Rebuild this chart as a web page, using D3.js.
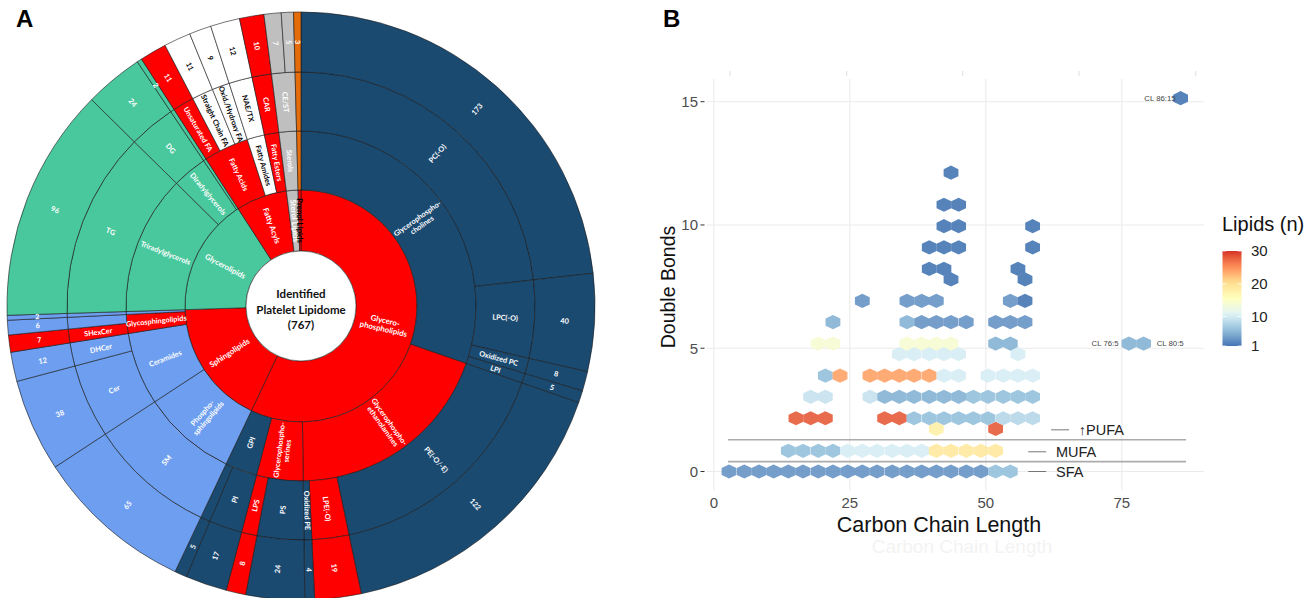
<!DOCTYPE html>
<html>
<head>
<meta charset="utf-8">
<script src="https://cdn.jsdelivr.net/npm/d3@7"></script>
<style>
  body { margin: 0; background: #fff; }
  svg { display: block; font-family: "Liberation Sans", Arial, sans-serif; }
</style>
</head>
<body>
<div id="chart"></div>
<script>
// ---------- panel A: one entry per outer-ring segment, clockwise from 12 o'clock ----------
const lipidClass = [
  "Glycero-\nphospholipids","Glycero-\nphospholipids","Glycero-\nphospholipids","Glycero-\nphospholipids",
  "Glycero-\nphospholipids","Glycero-\nphospholipids","Glycero-\nphospholipids","Glycero-\nphospholipids",
  "Glycero-\nphospholipids","Glycero-\nphospholipids","Glycero-\nphospholipids",
  "Sphingolipids","Sphingolipids","Sphingolipids","Sphingolipids","Sphingolipids","Sphingolipids",
  "Glycerolipids","Glycerolipids","Glycerolipids",
  "Fatty Acyls","Fatty Acyls","Fatty Acyls","Fatty Acyls","Fatty Acyls",
  "Sterol Lipids","Sterol Lipids",
  "Prenol Lipids"
];
const subClass = [
  "Glycerophospho-\ncholines","Glycerophospho-\ncholines","Glycerophospho-\ncholines","Glycerophospho-\ncholines",
  "Glycerophospho-\nethanolamines","Glycerophospho-\nethanolamines","Glycerophospho-\nethanolamines",
  "Glycerophospho-\nserines","Glycerophospho-\nserines",
  "GPI","GPI",
  "Phospho-\nsphingolipids","Ceramides","Ceramides","Glycosphingolipids","Glycosphingolipids","",
  "Triradylglycerols","Diradylglycerols","",
  "Fatty Acids","Fatty Acids","Fatty Acids","Fatty Amides","Fatty Esters",
  "Sterols","Sterols",
  ""
];
const speciesGroup = [
  "PC(-O)","LPC(-O)","Oxidized PC","LPI",
  "PE(-O/-E)","LPE(-O)","Oxidized PE",
  "PS","LPS",
  "PI","",
  "SM","Cer","DHCer","SHexCer","","",
  "TG","DG","",
  "Unsaturated FA","Straight Chain FA","Oxid./Hydroxy FA","NAE/TX","CAR",
  "CE/ST","CE/ST",
  ""
];
const lipidCounts = [173,40,8,5, 122,19,4, 24,8, 17,5, 65,38,12,7,6,2, 96,24,2, 11,11,9,12,10, 7,5, 3];
const centerLines = ["Identified", "Platelet Lipidome", "(767)"];

// ---------- panel B: hex cells, one row per double-bond level ----------
const hexRowDB = [0, 0.84, 1.73, 2.16, 3.03, 3.89, 4.76, 5.19, 6.06, 6.92, 7.79, 8.22, 9.09, 9.95, 10.82, 12.12, 15.14];
const hexRowCarbon = [
  [2.8,5.6,8.3,11.0,13.7,16.4,19.2,21.9,24.6,27.3,30.0,32.8,35.5,38.2,40.9,43.6,46.4,49.1,51.8,54.5],
  [13.7,16.4,19.2,21.9,24.6,27.3,30.0,32.8,35.5,38.2,40.9,43.6,46.4,49.1,51.8],
  [40.9,51.8],
  [15.1,17.8,20.5,31.4,34.1,36.8,39.6,42.3,45.0,47.7,50.4,53.2,55.9,58.6],
  [17.8,20.5,28.7,31.4,34.1,36.8,39.6,42.3,45.0,47.7,50.4,53.2,55.9,58.6],
  [20.5,23.2,28.7,31.4,34.1,36.8,39.6,42.3,45.0,50.4,53.2,55.9,58.6],
  [34.1,36.8,39.6,42.3,45.0,55.9],
  [19.2,21.9,35.5,38.2,40.9,43.6,51.8,54.5,76.3,79.0],
  [21.9,35.5,38.2,40.9,43.6,46.4,51.8,54.5,57.2],
  [27.3,35.5,38.2,40.9,54.5,57.2],
  [43.6,57.2],
  [39.6,42.3,55.9],
  [39.6,42.3,45.0,58.6],
  [42.3,45.0,58.6],
  [42.3,45.0],
  [43.6],
  [85.8]
];
const hexRowCount = [
  [3,3,3,3,3,3,3,3,3,3,3,3,3,3,3,3,3,3,6,6],
  [6,6,6,6,10,10,10,10,10,10,19,19,19,19,19],
  [18,28],
  [28,28,28,28,28,6,6,6,6,6,6,8,8,8],
  [9,9,9,5,5,5,5,5,5,6,6,6,6,6],
  [6,24,24,24,24,24,24,10,10,10,10,10,10],
  [10,10,10,10,10,10],
  [14,14,14,14,14,14,5,5,5,5],
  [5,5,3,3,3,3,3,3,3],
  [3,3,3,3,3,1],
  [1,1],
  [1,1,1],
  [1,1,1,1],
  [1,1,1],
  [1,1],
  [1],
  [1]
];
const xTicks = [0, 25, 50, 75];
const yTicks = [0, 5, 10, 15];
const legendTicks = [1, 10, 20, 30];
const fattyLabels = ["SFA", "MUFA", "\u2191PUFA"];
const fattyLabelDB = [0, 0.8, 1.69];
const speciesNotes = ["CL 86:15", "CL 76:5", "CL 80:5"];

const svg = d3.select("#chart").append("svg")
  .attr("width", 1306)
  .attr("height", 598);

// ================= panel A: sunburst =================
const treeData = {name: "root", children: []};
lipidCounts.forEach((c, i) => {
  let node = treeData;
  [lipidClass[i], subClass[i], speciesGroup[i]].forEach(name => {
    let child = node.children.find(d => d.name === name);
    if (!child) { child = {name, children: []}; node.children.push(child); }
    node = child;
  });
  node.children.push({name: String(c), value: c});
});

const root = d3.hierarchy(treeData).sum(d => d.value || 0);
d3.partition().size([2 * Math.PI, 5])(root);

const ringRadius = d3.scaleLinear().domain([1, 2, 3, 4, 5]).range([55, 116, 175, 234, 294]);

const classColor = {
  "Glycero-\nphospholipids": "#1b4a71",
  "Sphingolipids": "#6d9eef",
  "Glycerolipids": "#49c89d",
  "Fatty Acyls": "#ffffff",
  "Sterol Lipids": "#bfbfbf",
  "Prenol Lipids": "#e46c0a"
};
const redNodes = new Set([
  "Glycero-\nphospholipids", "Sphingolipids", "Fatty Acyls", "Prenol Lipids",
  "Glycerophospho-\nethanolamines", "Glycerophospho-\nserines", "Glycosphingolipids", "Fatty Acids", "Fatty Esters",
  "LPE(-O)", "LPS", "SHexCer", "Unsaturated FA", "CAR"
]);

function segFill(d) {
  const top = d.ancestors().find(a => a.depth === 1);
  const own = d.depth === 4 ? d.parent : d;
  if (redNodes.has(own.data.name)) return "#ff0000";
  return classColor[top.data.name];
}

const arc = d3.arc()
  .startAngle(d => d.x0)
  .endAngle(d => d.x1)
  .innerRadius(d => ringRadius(d.y0))
  .outerRadius(d => ringRadius(d.y1));

const gA = svg.append("g").attr("transform", "translate(301,306)");

const nodes = root.descendants().filter(d => d.depth > 0);

gA.selectAll("path")
  .data(nodes)
  .join("path")
    .attr("d", arc)
    .attr("fill", segFill)
    .attr("stroke", "#1a1a1a")
    .attr("stroke-width", 0.6);

const labels = gA.selectAll("text.seg")
  .data(nodes.filter(d => d.data.name !== ""))
  .join("text")
    .attr("class", "seg")
    .attr("transform", d => {
      const a = (d.x0 + d.x1) / 2;
      const r = (ringRadius(d.y0) + ringRadius(d.y1)) / 2;
      const deg = a * 180 / Math.PI;
      const rot = deg < 180 ? deg - 90 : deg - 270;
      return `translate(${r * Math.sin(a)},${-r * Math.cos(a)}) rotate(${rot})`;
    })
    .attr("text-anchor", "middle")
    .attr("font-family", "Lato, 'Open Sans', sans-serif")
    .attr("font-weight", "bold")
    .attr("font-size", d => d.depth === 1 ? "7.8px" : "7.3px")
    .attr("fill", d => (segFill(d) === "#ffffff" || d.data.name === "Prenol Lipids") ? "#000" : "#fff");

labels.each(function(d) {
  const lines = d.data.name.split("\n");
  const t = d3.select(this);
  lines.forEach((line, i) => {
    t.append("tspan")
      .attr("x", 0)
      .attr("dy", i === 0 ? `${0.35 - (lines.length - 1) * 0.55}em` : "1.1em")
      .text(line);
  });
});

gA.append("circle")
  .attr("r", ringRadius(1))
  .attr("fill", "#fff")
  .attr("stroke", "#333")
  .attr("stroke-width", 0.6);

gA.selectAll("text.center")
  .data(centerLines)
  .join("text")
    .attr("class", "center")
    .attr("text-anchor", "middle")
    .attr("y", (d, i) => -8 + i * 15.5)
    .attr("font-family", "Lato, 'Open Sans', sans-serif")
    .attr("font-weight", "bold")
    .attr("font-size", "11.5px")
    .attr("fill", "#111")
    .text(d => d);

svg.append("text").attr("x", 16).attr("y", 27)
  .attr("font-size", "24px").attr("font-weight", "bold").text("A");

// ================= panel B: hexbin =================
const x = d3.scaleLinear().domain([-1.25, 90.1]).range([707, 1204]);
const y = d3.scaleLinear().domain([-0.75, 15.92]).range([490, 79]);

const palette = ["#4575b4", "#91bfdb", "#e0f3f8", "#ffffbf", "#fee090", "#fc8d59", "#d73027"];
const fillScale = d3.scaleLinear()
  .domain(palette.map((_, i) => 1 + 29 * i / 6))
  .range(palette)
  .interpolate(d3.interpolateLab);

const gB = svg.append("g");

// faint ticks left over from the layout above the panel
gB.selectAll("line.ghost")
  .data([730, 846.7, 962.7, 1079, 1195.7])
  .join("line")
    .attr("class", "ghost")
    .attr("x1", d => d).attr("x2", d => d)
    .attr("y1", 71).attr("y2", 76)
    .attr("stroke", "#e3e3e3").attr("stroke-width", 1.2);

// grid
gB.selectAll("line.gx")
  .data(xTicks)
  .join("line")
    .attr("class", "gx")
    .attr("x1", d => x(d)).attr("x2", d => x(d))
    .attr("y1", y.range()[1]).attr("y2", y.range()[0])
    .attr("stroke", "#ebebeb").attr("stroke-width", 1.1);
gB.selectAll("line.gy")
  .data(yTicks)
  .join("line")
    .attr("class", "gy")
    .attr("x1", x.range()[0]).attr("x2", x.range()[1])
    .attr("y1", d => y(d)).attr("y2", d => y(d))
    .attr("stroke", "#ebebeb").attr("stroke-width", 1.1);

// hexes
const hexW = 2.72, hexH = 0.577;
const hexCorners = [[0, hexH / 2], [hexW / 2, hexH / 4], [hexW / 2, -hexH / 4],
                    [0, -hexH / 2], [-hexW / 2, -hexH / 4], [-hexW / 2, hexH / 4]];
const hexes = hexRowDB.flatMap((db, i) =>
  hexRowCarbon[i].map((c, j) => ({c, db, n: hexRowCount[i][j]})));

gB.selectAll("path.hex")
  .data(hexes)
  .join("path")
    .attr("class", "hex")
    .attr("d", d => "M" + hexCorners.map(([dx, dy]) => `${x(d.c + dx)},${y(d.db + dy)}`).join("L") + "Z")
    .attr("fill", d => fillScale(d.n))
    .attr("fill-opacity", 0.9);

// SFA / MUFA / PUFA separators and labels
gB.selectAll("line.sep")
  .data([0.4, 1.29])
  .join("line")
    .attr("class", "sep")
    .attr("x1", x(2.6)).attr("x2", x(86.8))
    .attr("y1", d => y(d)).attr("y2", d => y(d))
    .attr("stroke", "#ababab").attr("stroke-width", 1.6);

const fattyLineX0 = [57.8, 57.8, 62.0];
gB.selectAll("line.fl")
  .data(fattyLabels)
  .join("line")
    .attr("class", "fl")
    .attr("x1", (d, i) => x(fattyLineX0[i])).attr("x2", (d, i) => x(fattyLineX0[i] + 3.3))
    .attr("y1", (d, i) => y(fattyLabelDB[i])).attr("y2", (d, i) => y(fattyLabelDB[i]))
    .attr("stroke", "#777").attr("stroke-width", 1);
gB.selectAll("text.fl")
  .data(fattyLabels)
  .join("text")
    .attr("class", "fl")
    .attr("x", (d, i) => x(fattyLineX0[i] + 5.1))
    .attr("y", (d, i) => y(fattyLabelDB[i]))
    .attr("dy", "0.36em")
    .attr("font-size", "14.5px")
    .attr("fill", "#222")
    .text(d => d);

// species notes
const noteX = [84.9, 74.4, 81.4];
const noteDB = [15.14, 5.19, 5.19];
const noteAnchor = ["end", "end", "start"];
gB.selectAll("text.note")
  .data(speciesNotes)
  .join("text")
    .attr("class", "note")
    .attr("x", (d, i) => x(noteX[i]))
    .attr("y", (d, i) => y(noteDB[i]))
    .attr("dy", "0.35em")
    .attr("text-anchor", (d, i) => noteAnchor[i])
    .attr("font-size", "7.8px")
    .attr("fill", "#444")
    .text(d => d);

// axes
gB.selectAll("text.xt")
  .data(xTicks)
  .join("text")
    .attr("class", "xt")
    .attr("x", d => x(d)).attr("y", 508)
    .attr("text-anchor", "middle")
    .attr("font-size", "15px").attr("fill", "#4d4d4d")
    .text(d => d);
gB.selectAll("text.yt")
  .data(yTicks)
  .join("text")
    .attr("class", "yt")
    .attr("x", 698).attr("y", d => y(d))
    .attr("dy", "0.36em")
    .attr("text-anchor", "end")
    .attr("font-size", "15px").attr("fill", "#4d4d4d")
    .text(d => d);
gB.selectAll("line.ytick")
  .data(yTicks)
  .join("line")
    .attr("class", "ytick")
    .attr("x1", 700.5).attr("x2", 704.5)
    .attr("y1", d => y(d)).attr("y2", d => y(d))
    .attr("stroke", "#333").attr("stroke-width", 1);

gB.append("text")
  .attr("x", 962).attr("y", 553)
  .attr("text-anchor", "middle")
  .attr("font-size", "19px").attr("fill", "#f3f3f3")
  .text("Carbon Chain Length");
gB.append("text")
  .attr("x", 939).attr("y", 532)
  .attr("text-anchor", "middle")
  .attr("font-size", "21.5px").attr("fill", "#111")
  .text("Carbon Chain Length");
gB.append("text")
  .attr("transform", "translate(675,287) rotate(-90)")
  .attr("text-anchor", "middle")
  .attr("font-size", "19.5px").attr("fill", "#111")
  .text("Double Bonds");

// legend
const legendY = d3.scaleLinear().domain([1, 30]).range([346, 251]);
const grad = svg.append("defs").append("linearGradient")
  .attr("id", "lipidGrad")
  .attr("x1", 0).attr("y1", 1).attr("x2", 0).attr("y2", 0);
d3.range(0, 1.0001, 0.05).forEach(t => {
  grad.append("stop")
    .attr("offset", t)
    .attr("stop-color", fillScale(1 + 29 * t));
});
gB.append("rect")
  .attr("x", 1222.5).attr("y", legendY(30))
  .attr("width", 19).attr("height", legendY(1) - legendY(30))
  .attr("fill", "url(#lipidGrad)");
gB.selectAll("line.lt")
  .data(legendTicks.flatMap(v => [[v, 1222.5], [v, 1237.7]]))
  .join("line")
    .attr("class", "lt")
    .attr("x1", d => d[1]).attr("x2", d => d[1] + 3.8)
    .attr("y1", d => legendY(d[0])).attr("y2", d => legendY(d[0]))
    .attr("stroke", "#fff").attr("stroke-width", 0.8);
gB.selectAll("text.lt")
  .data(legendTicks)
  .join("text")
    .attr("class", "lt")
    .attr("x", 1251).attr("y", d => legendY(d))
    .attr("dy", "0.36em")
    .attr("font-size", "15px").attr("fill", "#222")
    .text(d => d);
gB.append("text")
  .attr("x", 1222).attr("y", 231)
  .attr("font-size", "20px").attr("fill", "#111")
  .text("Lipids (n)");

svg.append("text").attr("x", 663).attr("y", 27)
  .attr("font-size", "24px").attr("font-weight", "bold").text("B");
</script>
</body>
</html>
